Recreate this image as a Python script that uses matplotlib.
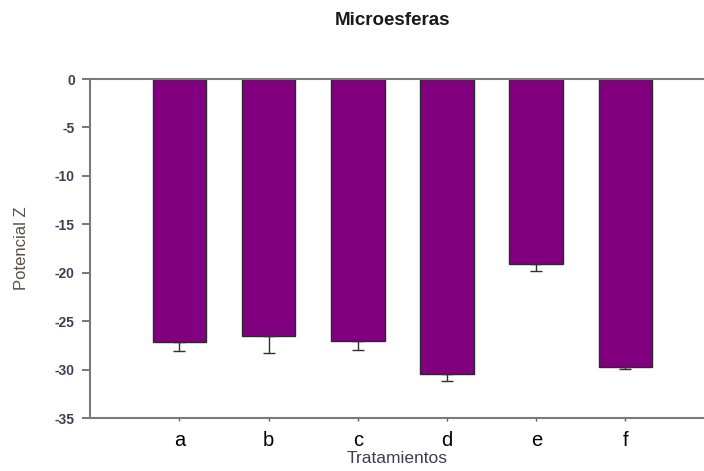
import numpy as np
import matplotlib
matplotlib.use('Agg')
import matplotlib.pyplot as plt

# datos
tratamientos = ['a', 'b', 'c', 'd', 'e', 'f']
potencial_z = [-27.2, -26.5, -27.0, -30.5, -19.1, -29.7]
error = [0.85, 1.8, 1.0, 0.7, 0.75, 0.25]
y_ticks = [0, -5, -10, -15, -20, -25, -30, -35]

plt.rcParams['font.family'] = ['Liberation Sans', 'DejaVu Sans']

fig = plt.figure(figsize=(7.04, 4.71), dpi=100)
ax = fig.add_axes([0.128, 0.1125, 0.872, 0.7197])

x = np.arange(len(tratamientos))
ax.bar(x, potencial_z, width=0.6, color='#800080', edgecolor='#2a2a2a', linewidth=1.0, zorder=2)
# solo la barra de error hacia abajo
low = np.array(error)
ax.errorbar(x, potencial_z, yerr=[low, np.zeros_like(low)], fmt='none',
            ecolor='#303030', elinewidth=1.0, capsize=4.5, capthick=1.0, zorder=3)

ax.set_xlim(-1.0, 5.88)
ax.set_ylim(-35, 0)
ax.set_yticks(y_ticks)
ax.set_yticklabels([str(t) for t in y_ticks], fontsize=10, fontweight='bold', color='#3c3f55')
ax.set_xticks(x)
ax.set_xticklabels(tratamientos, fontsize=14.5, color='black')

ax.tick_params(axis='y', direction='out', length=6, width=1.2, color='#606060', pad=5)
ax.tick_params(axis='x', direction='out', length=2, width=1.0, color='#606060', pad=7)

for s in ['left', 'bottom', 'top']:
    ax.spines[s].set_color('#7a7a7a')
    ax.spines[s].set_linewidth(1.5)
ax.spines['right'].set_visible(False)

ax.set_ylabel('Potencial Z', fontsize=12, color='#5a5048')
ax.yaxis.set_label_coords(-0.1, 0.5)
ax.set_xlabel('Tratamientos', fontsize=12.5, color='#3c3f55', labelpad=1)
fig.text(0.557, 0.957, 'Microesferas', ha='center', va='center', fontsize=13.5, fontweight='bold', color='#1a1a1a')

fig.savefig('out.png', dpi=100)
